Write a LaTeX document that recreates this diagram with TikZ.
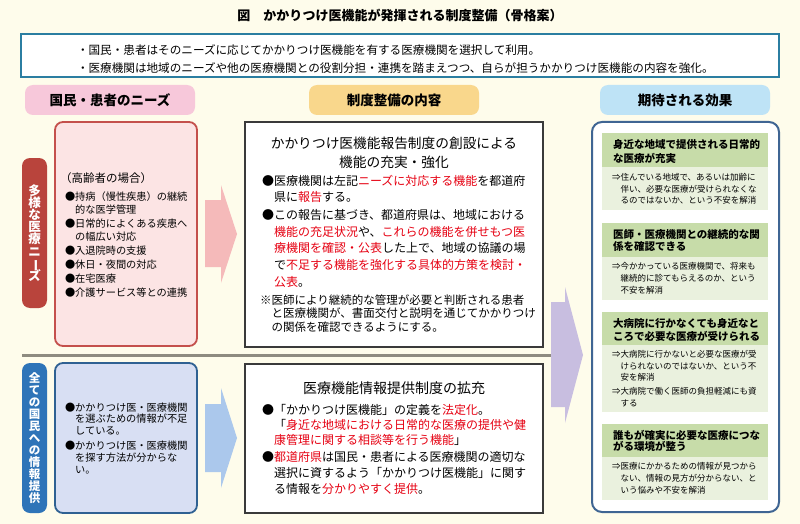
\documentclass[tikz,border=0pt]{standalone}
\usepackage{fontspec}
\setmainfont{Noto Sans CJK JP}
\usepackage{graphicx}
\definecolor{bgc}{HTML}{FEFCEB}
\definecolor{topb}{HTML}{2B7EA1}
\definecolor{pinkpill}{HTML}{F7C8DA}
\definecolor{yelpill}{HTML}{F9D78C}
\definecolor{bluepill}{HTML}{BEE3F6}
\definecolor{redlab}{HTML}{B9443C}
\definecolor{pinkfill}{HTML}{FCE4E4}
\definecolor{pinkbord}{HTML}{C4504C}
\definecolor{bluelab}{HTML}{2E74B8}
\definecolor{bluefill}{HTML}{D8DFF3}
\definecolor{bluebord}{HTML}{2F6192}
\definecolor{parrow}{HTML}{F5BABA}
\definecolor{barrow}{HTML}{ABC8EC}
\definecolor{purarrow}{HTML}{C8BEE0}
\definecolor{midbord}{HTML}{3A3A3A}
\definecolor{rbord}{HTML}{3F6593}
\definecolor{ghead}{HTML}{C7DCA9}
\definecolor{gbody}{HTML}{EAF1DE}
\definecolor{sepc}{HTML}{8E8B80}
\definecolor{jred}{HTML}{E60012}
\newcommand\rd[1]{\textcolor{jred}{#1}}
\newcommand\tightlines{\lineskiplimit=-20pt\relax}
\newcommand\tlines[4]{\foreach \yy/\txt [count=\i] in {#4} {\node[anchor=base west, inner sep=0pt, outer sep=0pt, #3] (#1-\i) at (#2,\yy) {\txt};}}
\tikzset{
  boxn/.style={rectangle, inner sep=0pt, outer sep=0pt, anchor=north west},
  pill/.style={rectangle, rounded corners=8pt, inner sep=0pt, minimum width=170pt, minimum height=30pt, font=\fontsize{13.5}{15}\selectfont\bfseries},
  vlab/.style={rectangle, rounded corners=8pt, inner sep=0pt, minimum width=25pt, minimum height=150pt, align=center, text=white},
  midbox/.style={boxn, draw=midbord, line width=2pt, fill=white, minimum width=298pt},
  ghd/.style={boxn, fill=ghead, minimum width=166pt},
  gbd/.style={boxn, fill=gbody, minimum width=166pt},
  htxt/.style={font=\fontsize{10.5}{12}\selectfont\bfseries},
  btxt/.style={font=\fontsize{8.5}{10}\selectfont},
}
\begin{document}
\begin{tikzpicture}[x=1pt,y=-1pt]
\useasboundingbox (0,0) rectangle (800,524);
\fill[bgc] (0,0) rectangle (800,524);
% title
\node[anchor=base, inner sep=0pt, font=\fontsize{13}{14}\selectfont\bfseries] (title) at (400,21) {図　かかりつけ医機能が発揮される制度整備（骨格案）};
% top box
\node[boxn, draw=topb, line width=2.5pt, fill=white, minimum width=758pt, minimum height=43pt] (topbox) at (21,34) {};
\tlines{top}{77}{font=\fontsize{11.6}{13}\selectfont}{54.3/{・国民・患者はそのニーズに応じてかかりつけ医機能を有する医療機関を選択して利用。}, 72.3/{・医療機関は地域のニーズや他の医療機関との役割分担・連携を踏まえつつ、自らが担うかかりつけ医機能の内容を強化。}}
% pills
\node[pill, fill=pinkpill] (pill1) at (110,100) {国民・患者のニーズ};
\node[pill, fill=yelpill] (pill2) at (394,100) {制度整備の内容};
\node[pill, fill=bluepill] (pill3) at (685,100) {期待される効果};
% left column
\node[boxn, draw=pinkbord, line width=1.8pt, fill=pinkfill, rounded corners=8pt, minimum width=142pt, minimum height=224pt] (pinkbox) at (55,122) {};
\node[vlab, fill=redlab, font=\fontsize{12.5}{12.2}\selectfont\bfseries\tightlines] (redlab) at (34.5,233) {多\\様\\な\\医\\療\\ニ\\\rotatebox[origin=c]{-90}{ー}\\ズ};
\node[anchor=base west, inner sep=0pt, font=\fontsize{11.5}{12}\selectfont] (elder) at (60,182) {（高齢者の場合）};
\tlines{need}{65}{font=\fontsize{10.2}{12}\selectfont}{200/{●持病（慢性疾患）の継続}, 213/{\phantom{●}的な医学管理}, 227/{●日常的によくある疾患へ}, 240/{\phantom{●}の幅広い対応}, 254/{●入退院時の支援}, 268/{●休日・夜間の対応}, 282/{●在宅医療}, 296/{●介護サービス等との連携}}
\node[boxn, draw=bluebord, line width=1.8pt, fill=bluefill, rounded corners=8pt, minimum width=142pt, minimum height=150pt] (bluebox) at (55,363) {};
\node[vlab, fill=bluelab, font=\fontsize{11.5}{12}\selectfont\bfseries\tightlines] (bluelab) at (34.5,438) {全\\て\\の\\国\\民\\へ\\の\\情\\報\\提\\供};
\tlines{info}{65}{font=\fontsize{10.2}{12}\selectfont}{411.2/{●かかりつけ医・医療機関}, 422.2/{\phantom{●}を選ぶための情報が不足}, 434.6/{\phantom{●}している。}, 449.6/{●かかりつけ医・医療機関}, 461.2/{\phantom{●}を探す方法が分からな}, 473.2/{\phantom{●}い。}}
% separator
\draw[sepc, line width=3pt] (22,355) -- (551,355);
% arrows
\fill[parrow] (205,200) -- (221,200) -- (221,185) -- (237,234) -- (221,283) -- (221,267) -- (205,267) -- cycle;
\fill[barrow] (205,404) -- (221,404) -- (221,388) -- (237,438) -- (221,488) -- (221,472) -- (205,472) -- cycle;
\fill[purarrow] (551,302) -- (565,302) -- (565,287) -- (583,355) -- (565,423) -- (565,407) -- (551,407) -- cycle;
% middle top
\node[midbox, minimum height=225pt] (midtop) at (245,122) {};
\node[anchor=base, inner sep=0pt, font=\fontsize{13.7}{15}\selectfont] (mt1) at (394,148.2) {かかりつけ医機能報告制度の創設による};
\node[anchor=base, inner sep=0pt, font=\fontsize{13.7}{15}\selectfont] (mt2) at (394,167.2) {機能の充実・強化};
\tlines{mtb}{262}{font=\fontsize{12}{14}\selectfont}{185.6/{●医療機関は左記\rd{ニーズに対応する機能}を都道府}, 201.6/{\phantom{●}県に\rd{報告}する。}, 219.6/{●この報告に基づき、都道府県は、地域における}, 236.6/{\phantom{●}\rd{機能の充足状況}や、\rd{これらの機能を併せもつ医}}, 252.6/{\phantom{●}\rd{療機関を確認・公表}した上で、地域の協議の場}, 269.6/{\phantom{●}で\rd{不足する機能を強化する具体的方策を検討・}}, 286.6/{\phantom{●}\rd{公表}。}}
\tlines{mtn}{260}{font=\fontsize{11.5}{13}\selectfont}{304.4/{※医師により継続的な管理が必要と判断される患者}, 317.9/{\phantom{※}と医療機関が、書面交付と説明を通じてかかりつけ}, 331.4/{\phantom{※}の関係を確認できるようにする。}}
% middle bottom
\node[midbox, minimum height=149pt] (midbot) at (245,364) {};
\node[anchor=base, inner sep=0pt, font=\fontsize{14}{15}\selectfont] (mb1) at (394,393.3) {医療機能情報提供制度の拡充};
\tlines{mbb}{262}{font=\fontsize{12}{14}\selectfont}{414.6/{●「かかりつけ医機能」の定義を\rd{法定化}。}, 429.6/{\phantom{●}「\rd{身近な地域における日常的な医療の提供や健}}, 444.6/{\phantom{●}\rd{康管理に関する相談等を行う機能}」}, 461.6/{●\rd{都道府県}は国民・患者による医療機関の適切な}, 477.6/{\phantom{●}選択に資するよう「かかりつけ医機能」に関す}, 493.6/{\phantom{●}る情報を\rd{分かりやすく提供}。}}
% right column
\node[boxn, draw=rbord, line width=2pt, fill=white, rounded corners=10pt, minimum width=187pt, minimum height=390pt] (rbox) at (592,122) {};
\node[ghd, minimum height=34pt] (h1) at (602,133) {};
\node[gbd, minimum height=43pt] (b1) at (602,167) {};
\node[ghd, minimum height=34pt] (h2) at (602,223) {};
\node[gbd, minimum height=43pt] (b2) at (602,257) {};
\node[ghd, minimum height=33pt] (h3) at (602,312) {};
\node[gbd, minimum height=67pt] (b3) at (602,345) {};
\node[ghd, minimum height=33pt] (h4) at (602,424) {};
\node[gbd, minimum height=43pt] (b4) at (602,457) {};
\tlines{h1t}{613}{htxt}{149/{身近な地域で提供される日常的}, 162/{な医療が充実}}
\tlines{b1t}{612}{btxt}{180.9/{⇒住んでいる地域で、あるいは加齢に}, 192.5/{\phantom{⇒}伴い、必要な医療が受けられなくな}, 203.9/{\phantom{⇒}るのではないか、という不安を解消}}
\tlines{h2t}{613}{htxt}{238/{医師・医療機関との継続的な関}, 250.7/{係を確認できる}}
\tlines{b2t}{612}{btxt}{269.2/{⇒今かかっている医療機関で、将来も}, 281.5/{\phantom{⇒}継続的に診てもらえるのか、という}, 293.2/{\phantom{⇒}不安を解消}}
\tlines{h3t}{613}{htxt}{327.5/{大病院に行かなくても身近なと}, 340/{ころで必要な医療が受けられる}}
\tlines{b3t}{612}{btxt}{357.2/{⇒大病院に行かないと必要な医療が受}, 369.9/{\phantom{⇒}けられないのではないか、という不}, 380.9/{\phantom{⇒}安を解消}, 394.9/{⇒大病院で働く医師の負担軽減にも資}, 406.5/{\phantom{⇒}する}}
\tlines{h4t}{613}{htxt}{439/{誰もが確実に必要な医療につな}, 450.7/{がる環境が整う}}
\tlines{b4t}{612}{btxt}{469.9/{⇒医療にかかるための情報が見つから}, 481.5/{\phantom{⇒}ない、情報の見方が分からない、と}, 493.2/{\phantom{⇒}いう悩みや不安を解消}}
\end{tikzpicture}
\end{document}
